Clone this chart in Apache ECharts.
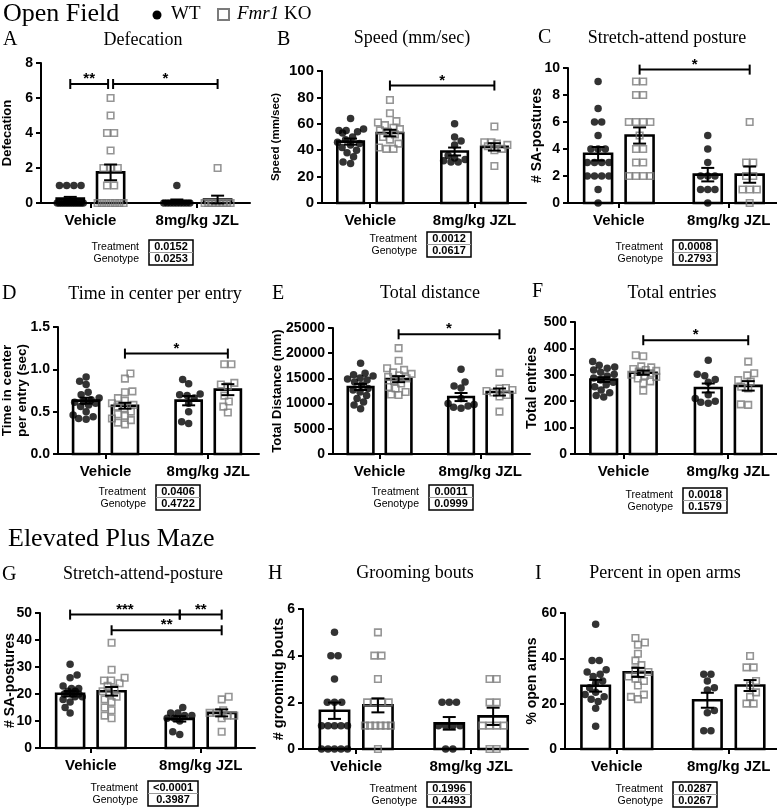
<!DOCTYPE html>
<html><head><meta charset="utf-8">
<script src="https://cdn.jsdelivr.net/npm/echarts@6/dist/echarts.min.js"></script>
<style>html,body{margin:0;padding:0;background:#fff}#c{width:777px;height:812px}</style>
</head><body><div id="c"></div>
<script>
// ---------------- DATA ----------------
const categories = ['Vehicle', '8mg/kg JZL'];
const panelLetters = ['A','B','C','D','E','F','G','H','I'];
const panelTitles = ['Defecation','Speed (mm/sec)','Stretch-attend posture','Time in center per entry','Total distance','Total entries','Stretch-attend-posture','Grooming bouts','Percent in open arms'];
const yNames = ['Defecation','Speed (mm/sec)','# SA-postures','Time in center\nper entry (sec)','Total Distance (mm)','Total entries','# SA-postures','# grooming bouts','% open arms'];
const yMax = [8, 100, 10, 1.5, 25000, 500, 50, 6, 60];
const yStep = [2, 20, 2, 0.5, 5000, 100, 10, 2, 20];
const pTreatment = ['0.0152','0.0012','0.0008','0.0406','0.0011','0.0018','<0.0001','0.1996','0.0287'];
const pGenotype  = ['0.0253','0.0617','0.2793','0.4722','0.0999','0.1579','0.3987','0.4493','0.0267'];

// group order: WT Vehicle, Fmr1 KO Vehicle, WT JZL, Fmr1 KO JZL
const defecationPoints = [
  [1,1,1,1,0,0,0,0,0,0,0,0,0,0,0,0,0],
  [6,5,4,4,3,2,2,2,1,1,0,0,0,0,0,0,0],
  [1,0,0,0,0,0,0,0,0,0],
  [2,0,0,0,0,0,0,0,0]
];
const defecationMean = [0.25, 1.75, 0.1, 0.2];
const defecationSEM  = [0.1, 0.45, 0.1, 0.22];

const speedPoints = [
  [64,56,55,55,54,53,50,48,46,45,44,42,40,38,35,31,30],
  [78,68,62,61,59,57,56,55,54,52,50,48,45,42,41,41],
  [60,50,47,44,36,34,33,32,31,31],
  [58,46,46,45,44,43,41,40,28]
];
const speedMean = [46.5, 53, 39, 42.5];
const speedSEM  = [2.3, 2.5, 3, 2.8];

const stretchOFPoints = [
  [9,7,6,6,5,4,4,4,3,3,3,3,2,2,2,2,1,0],
  [9,9,8,8,6,6,6,6,5,4,4,3,3,2,2,2,2],
  [5,4,3,2,2,2,1,1,1,0],
  [6,3,3,2,2,1,1,1,0]
];
const stretchOFMean = [3.65, 5.0, 2.1, 2.1];
const stretchOFSEM  = [0.5, 0.6, 0.5, 0.6];

const centerTimePoints = [
  [0.91,0.86,0.82,0.73,0.70,0.66,0.64,0.62,0.61,0.60,0.58,0.56,0.50,0.46,0.44,0.42,0.41],
  [0.95,0.89,0.74,0.73,0.66,0.63,0.60,0.58,0.56,0.54,0.50,0.47,0.45,0.42,0.40,0.37,0.35],
  [0.88,0.83,0.71,0.70,0.69,0.66,0.60,0.50,0.38,0.36],
  [1.06,1.06,0.84,0.82,0.80,0.69,0.62,0.56,0.49]
];
const centerTimeMean = [0.63, 0.57, 0.63, 0.76];
const centerTimeSEM  = [0.035, 0.035, 0.055, 0.065];

const distancePoints = [
  [18000,16000,15700,15500,15100,14900,14700,14300,13700,13000,12700,12300,11600,11000,10300,9700,9000],
  [21000,18500,17000,16700,16200,15900,15600,15300,15000,14500,14000,13300,13000,12300,11800,11700],
  [16800,14300,13500,13100,11000,10000,9800,9500,9300,9100],
  [16100,13100,13000,12700,12500,12200,11700,11400,8400]
];
const distanceMean = [13300, 14850, 11300, 12300];
const distanceSEM  = [600, 600, 800, 700];

const entriesPoints = [
  [350,336,330,325,318,310,302,295,288,280,272,262,255,242,232,222,216],
  [374,370,332,328,322,318,315,312,306,300,296,292,286,275,268,240],
  [355,302,296,282,272,224,210,200,196,192],
  [350,306,298,280,274,255,248,188,186]
];
const entriesMean = [282, 308, 250, 258];
const entriesSEM  = [9, 8, 17, 18];

const stretchEPMPoints = [
  [31,27,26,23,22,22,21,21,20,20,20,19,19,18,17,15,13],
  [39,29,26,25,25,24,23,22,21,20,19,18,17,15,14,12,11],
  [15,13,13,12,12,11,11,10,6,5],
  [19,18,14,13,13,12,12,11,6]
];
const stretchEPMMean = [20.1, 21, 10.8, 13];
const stretchEPMSEM  = [1.0, 1.6, 1.0, 1.3];

const groomingPoints = [
  [5,4,4,3,2,2,2,1,1,1,1,1,0,0,0,0,0],
  [5,4,4,3,2,2,2,2,1,1,1,1,1,1,0],
  [2,2,2,1,1,1,1,0,0],
  [3,3,2,2,1,1,1,1,0,0]
];
const groomingMean = [1.64, 1.87, 1.1, 1.4];
const groomingSEM  = [0.35, 0.3, 0.27, 0.37];

const openArmsPoints = [
  [55,39,39,35,34,33,32,30,29,27,25,24,23,22,21,18,10],
  [49,47,46,42,39,37,35,34,33,32,31,30,28,24,23,22],
  [33,33,30,27,26,17,16,8,8],
  [41,36,36,30,28,25,23,20,20]
];
const openArmsMean = [27.9, 33.8, 21.5, 28];
const openArmsSEM  = [2.6, 2.0, 3.3, 2.4];

// significance brackets: [fromGroup, toGroup, yLevel, label]
const bracketsA = [[0,1,6.8,'**'],[1,3,6.8,'*']];
const bracketsB = [[1,3,89,'*']];
const bracketsC = [[1,3,9.88,'*']];
const bracketsD = [[1,3,1.186,'*']];
const bracketsE = [[1,3,23750,'*']];
const bracketsF = [[1,3,431,'*']];
const bracketsG = [[0,2,49.4,'***'],[2,3,49.4,'**'],[1,3,43.6,'**']];
const bracketsH = [];
const bracketsI = [];

const allPoints = [defecationPoints, speedPoints, stretchOFPoints, centerTimePoints, distancePoints, entriesPoints, stretchEPMPoints, groomingPoints, openArmsPoints];
const allMeans = [defecationMean, speedMean, stretchOFMean, centerTimeMean, distanceMean, entriesMean, stretchEPMMean, groomingMean, openArmsMean];
const allSEM = [defecationSEM, speedSEM, stretchOFSEM, centerTimeSEM, distanceSEM, entriesSEM, stretchEPMSEM, groomingSEM, openArmsSEM];
const allBrackets = [bracketsA, bracketsB, bracketsC, bracketsD, bracketsE, bracketsF, bracketsG, bracketsH, bracketsI];

// ---------------- LAYOUT ----------------
const barPos = [1.4, 3.33, 6.5, 8.45];   // x units (axis 0..10)
const barW = 1.3;
const catTicks = [(barPos[0]+barPos[1])/2, (barPos[2]+barPos[3])/2];
const layout = [
 {grid:{left:41, top:63, width:209, height:140}, nameGap:26, nameSize:13, tickSize:14, letter:[3,40], title:[143,40], table:[149,240], nudge:true},
 {grid:{left:322, top:71, width:204, height:132}, nameGap:39, nameSize:11.5, tickSize:15, letter:[277,40], title:[412,38], table:[427,232]},
 {grid:{left:568, top:68, width:215, height:135}, nameGap:23, nameSize:14, tickSize:14, letter:[538,38], title:[667,38], table:[673,240]},
 {grid:{left:58, top:327, width:201, height:127}, nameGap:28, nameSize:13.5, nameLH:15, tickSize:14, letter:[2,294], title:[155,294], table:[156,485]},
 {grid:{left:333, top:328, width:197, height:126}, nameGap:48, nameSize:13, tickSize:14, letter:[272,294], title:[430,293], table:[429,485]},
 {grid:{left:575, top:322, width:205, height:132}, nameGap:35, nameSize:14, tickSize:14, letter:[532,292], title:[672,293], table:[683,488]},
 {grid:{left:40, top:613, width:215, height:135}, nameGap:22, nameSize:14, tickSize:14, letter:[2,575], title:[143,574], table:[148,781], boxW:50},
 {grid:{left:303, top:609, width:225, height:140}, nameGap:16, nameSize:14.5, tickSize:14, letter:[268,574], title:[415,573], table:[427,782]},
 {grid:{left:565, top:613, width:219, height:136}, nameGap:25, nameSize:14, tickSize:14, letter:[535,574], title:[665,573], table:[673,782]}
];
const SANS = '"Liberation Sans", Arial, sans-serif';
const SERIF = '"Liberation Serif", "Times New Roman", serif';

// beeswarm-like horizontal layout (pixels), limited width
function swarm(vals, pxPerVal, diam, halfW) {
  const uniq = [...new Set(vals)].sort((a,b)=>a-b);
  const placed = [];
  const offs = {};
  uniq.forEach((v, ui) => {
    const n = vals.filter(u => u === v).length;
    const sp = n > 1 ? Math.min(diam, 2*halfW/(n-1)) : 0;
    const base = Array.from({length:n}, (_, j) => (j-(n-1)/2)*sp);
    const span = (n-1)/2*sp;
    const y = v*pxPerVal;
    let found = null, best = 0, bestScore = -Infinity;
    for (let k = 0; k <= 40 && found === null; k++) {
      const signs = k === 0 ? [1] : (ui % 2 ? [-1, 1] : [1, -1]);
      for (const sg of signs) {
        const s = sg*k*0.5;
        if (Math.abs(s) + span > halfW + 0.01) continue;
        let minD = Infinity;
        for (const b of base) for (const q of placed) {
          const d = Math.hypot(q.x-(b+s), q.y-y); if (d < minD) minD = d;
        }
        if (minD >= diam) { found = s; break; }
        if (minD > bestScore) { bestScore = minD; best = s; }
      }
    }
    const s = found !== null ? found : best;
    offs[v] = base.map(b => b+s);
    base.forEach(b => placed.push({x:b+s, y}));
  });
  const used = {};
  return vals.map(v => { used[v] = used[v] || 0; return offs[v][used[v]++]; });
}

const grids = [], xAxes = [], yAxes = [], series = [], graphics = [];

layout.forEach((L, i) => {
  const g = L.grid;
  grids.push({left:g.left, top:g.top, width:g.width, height:g.height, containLabel:false, outerBoundsMode:'none'});
  xAxes.push({
    type:'value', gridIndex:i, min:0, max:10,
    splitLine:{show:false},
    axisLine:{show:true, lineStyle:{color:'#000', width:2}},
    axisTick:{show:true, customValues:catTicks, length:5, lineStyle:{color:'#000', width:2}},
    axisLabel:{customValues:catTicks, formatter:v => v < 5 ? categories[0] : categories[1],
      color:'#000', fontWeight:'bold', fontSize:15, fontFamily:SANS, margin:10}
  });
  yAxes.push({
    type:'value', gridIndex:i, min:0, max:yMax[i], interval:yStep[i],
    splitLine:{show:false},
    axisLine:{show:true, lineStyle:{color:'#000', width:2}},
    axisTick:{show:true, length:5, lineStyle:{color:'#000', width:2}},
    axisLabel:{color:'#000', fontWeight:'bold', fontSize:L.tickSize, fontFamily:SANS, margin:8,
      formatter: v => i === 3 ? v.toFixed(1) : String(v)},
    name:yNames[i], nameLocation:'middle', nameRotate:90, nameGap:L.nameGap, nameMoveOverlap:false,
    nameTextStyle:{color:'#000', fontWeight:'bold', fontSize:L.nameSize, fontFamily:SANS, lineHeight:L.nameLH || (L.nameSize+2)}
  });

  const pxPerVal = g.height / yMax[i];
  const pxPerUnit = g.width / 10;
  const wt = [], ko = [];
  allPoints[i].forEach((vals, gi) => {
    const offs = swarm(vals, pxPerVal, 7.2, 13);
    vals.forEach((v, k) => {
      const pt = [barPos[gi] + offs[k]/pxPerUnit, v];
      (gi % 2 === 0 ? wt : ko).push(pt);
    });
  });

  series.push({
    type:'custom', xAxisIndex:i, yAxisIndex:i, z:1, silent:true,
    data: allMeans[i].map((m, gi) => [barPos[gi], m]),
    renderItem:(params, api) => {
      const x = api.value(0), m = api.value(1);
      const a = api.coord([x - barW/2, m]), b = api.coord([x + barW/2, 0]);
      return {type:'rect', shape:{x:a[0], y:a[1], width:b[0]-a[0], height:b[1]-a[1]},
        style:{fill:'#fff', stroke:'#000', lineWidth:2.6}};
    }
  });
  series.push({type:'scatter', xAxisIndex:i, yAxisIndex:i, z:2, silent:true, clip:false,
    symbol:'circle', symbolSize:7.5, itemStyle:{color:'#000'}, data:wt});
  series.push({type:'scatter', xAxisIndex:i, yAxisIndex:i, z:2, silent:true, clip:false,
    symbol:'rect', symbolSize:6.5, itemStyle:{color:'rgba(0,0,0,0)', borderColor:'#7b7b7b', borderWidth:1.6}, data:ko});
  series.push({
    type:'custom', xAxisIndex:i, yAxisIndex:i, z:3, silent:true,
    data: allMeans[i].map((m, gi) => [barPos[gi], m, allSEM[i][gi]]),
    renderItem:(params, api) => {
      const x = api.value(0), m = api.value(1), s = api.value(2);
      const hi = api.coord([x, m + s]), lo = api.coord([x, m - s]);
      const st = {stroke:'#000', lineWidth:2};
      return {type:'group', children:[
        {type:'line', shape:{x1:hi[0], y1:hi[1], x2:lo[0], y2:lo[1]}, style:st},
        {type:'line', shape:{x1:hi[0]-6.5, y1:hi[1], x2:hi[0]+6.5, y2:hi[1]}, style:st},
        {type:'line', shape:{x1:lo[0]-6.5, y1:lo[1], x2:lo[0]+6.5, y2:lo[1]}, style:st}
      ]};
    }
  });
  const br = allBrackets[i];
  if (br.length) {
    series.push({
      type:'custom', xAxisIndex:i, yAxisIndex:i, z:4, silent:true, clip:false,
      data: br.map(b => [barPos[b[0]], barPos[b[1]], b[2]]),
      renderItem:(params, api) => {
        const p1 = api.coord([api.value(0), api.value(2)]);
        const p2 = api.coord([api.value(1), api.value(2)]);
        let x1 = p1[0], x2 = p2[0];
        if (L.nudge) {
          const b = br[params.dataIndex];
          if (br.some((o, j) => j !== params.dataIndex && o[2] === b[2] && o[1] === b[0])) x1 += 2.5;
          if (br.some((o, j) => j !== params.dataIndex && o[2] === b[2] && o[0] === b[1])) x2 -= 2.5;
        }
        const y = p1[1];
        const st = {stroke:'#000', lineWidth:2};
        return {type:'group', children:[
          {type:'line', shape:{x1:x1, y1:y, x2:x2, y2:y}, style:st},
          {type:'line', shape:{x1:x1, y1:y-5, x2:x1, y2:y+5}, style:st},
          {type:'line', shape:{x1:x2, y1:y-5, x2:x2, y2:y+5}, style:st},
          {type:'text', style:{text:br[params.dataIndex][3], x:(x1+x2)/2, y:y-5,
            align:'center', verticalAlign:'middle', textAlign:'center', textVerticalAlign:'middle',
            font:'bold 15px ' + SANS, fill:'#000'}}
        ]};
      }
    });
  }

  // panel letter & title
  graphics.push({type:'text', x:L.letter[0], y:L.letter[1], style:{text:panelLetters[i],
    font:'20px ' + SERIF, fill:'#000', align:'left', verticalAlign:'middle', textAlign:'left', textVerticalAlign:'middle'}});
  graphics.push({type:'text', x:L.title[0], y:L.title[1], style:{text:panelTitles[i],
    font:'18px ' + SERIF, fill:'#000', align:'center', verticalAlign:'middle', textAlign:'center', textVerticalAlign:'middle'}});

  // stats table
  const tx = L.table[0], ty = L.table[1], bw = L.boxW || 44, rh = 12.5;
  graphics.push({type:'rect', shape:{x:tx, y:ty, width:bw, height:rh*2}, style:{fill:'#fff', stroke:'#000', lineWidth:1.5}});
  graphics.push({type:'line', shape:{x1:tx, y1:ty+rh, x2:tx+bw, y2:ty+rh}, style:{stroke:'#999', lineWidth:1}});
  [['Treatment', pTreatment[i]], ['Genotype', pGenotype[i]]].forEach((row, r) => {
    graphics.push({type:'text', x:tx+bw/2, y:ty+rh*r+rh/2+0.5, style:{text:row[1], font:'bold 11px ' + SANS, fill:'#000',
      align:'center', verticalAlign:'middle', textAlign:'center', textVerticalAlign:'middle'}});
    graphics.push({type:'text', x:tx-10, y:ty+rh*r+rh/2+0.5, style:{text:row[0], font:'10.5px ' + SANS, fill:'#000',
      align:'right', verticalAlign:'middle', textAlign:'right', textVerticalAlign:'middle'}});
  });
});

// section headings & legend
graphics.push({type:'text', x:3, y:14, style:{text:'Open Field', font:'26px ' + SERIF, fill:'#000',
  align:'left', verticalAlign:'middle', textAlign:'left', textVerticalAlign:'middle'}});
graphics.push({type:'text', x:8, y:539, style:{text:'Elevated Plus Maze', font:'26px ' + SERIF, fill:'#000',
  align:'left', verticalAlign:'middle', textAlign:'left', textVerticalAlign:'middle'}});
graphics.push({type:'circle', shape:{cx:157, cy:15, r:4.5}, style:{fill:'#000'}});
graphics.push({type:'text', x:171, y:14, style:{text:'WT', font:'19px ' + SERIF, fill:'#000',
  align:'left', verticalAlign:'middle', textAlign:'left', textVerticalAlign:'middle'}});
graphics.push({type:'rect', shape:{x:218, y:9, width:11, height:11}, style:{fill:'none', stroke:'#7b7b7b', lineWidth:2}});
graphics.push({type:'text', x:237, y:14, style:{text:'{i|Fmr1} KO', font:'19px ' + SERIF, fill:'#000',
  align:'left', verticalAlign:'middle', textAlign:'left', textVerticalAlign:'middle',
  rich:{i:{fontStyle:'italic', fontSize:19, fontFamily:SERIF, fill:'#000', color:'#000'}}}});

const chart = echarts.init(document.getElementById('c'), null, {renderer:'canvas', width:777, height:812});
chart.setOption({
  animation:false,
  backgroundColor:'#fff',
  textStyle:{fontFamily:SANS},
  grid:grids, xAxis:xAxes, yAxis:yAxes, series:series,
  graphic:{elements:graphics}
});
</script>
</body></html>
